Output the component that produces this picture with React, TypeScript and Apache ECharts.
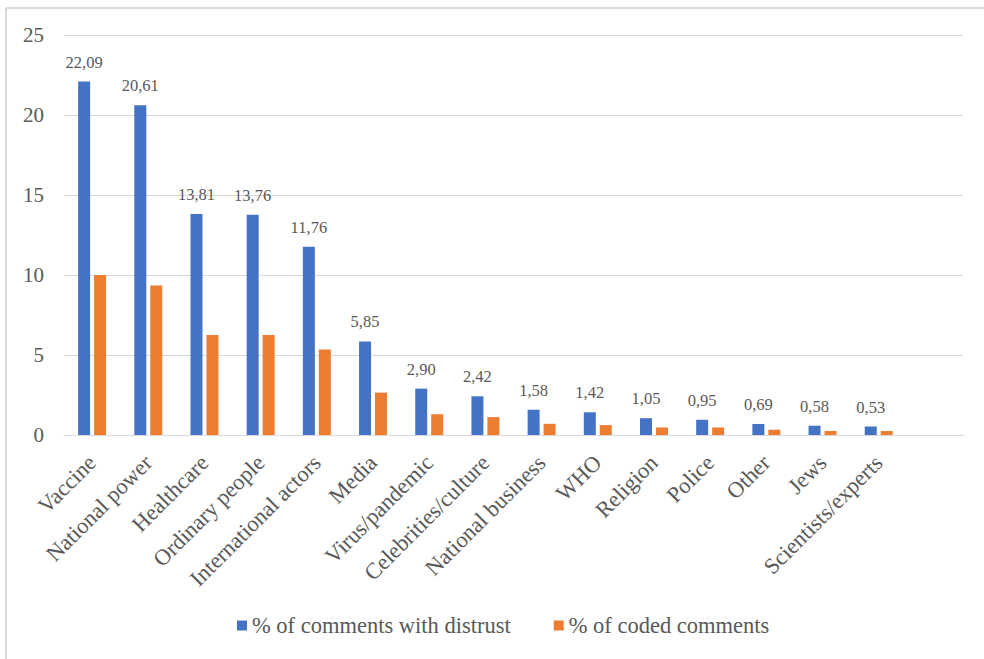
import React, { useEffect, useRef } from "react";
import * as echarts from "echarts";

const categories = [
  "Vaccine",
  "National power",
  "Healthcare",
  "Ordinary people",
  "International actors",
  "Media",
  "Virus/pandemic",
  "Celebrities/culture",
  "National business",
  "WHO",
  "Religion",
  "Police",
  "Other",
  "Jews",
  "Scientists/experts",
  "",
];

const distrust = [22.09, 20.61, 13.81, 13.76, 11.76, 5.85, 2.9, 2.42, 1.58, 1.42, 1.05, 0.95, 0.69, 0.58, 0.53];
const coded = [10.0, 9.35, 6.25, 6.25, 5.35, 2.65, 1.3, 1.12, 0.7, 0.62, 0.47, 0.47, 0.33, 0.25, 0.25];

const seriesNames = ["% of comments with distrust", "% of coded comments"];

const FONT = "Liberation Serif";
const TEXT = "#595959";
const GRID = "#d9d9d9";

export default function App() {
  const ref = useRef<HTMLDivElement>(null);
  useEffect(() => {
    if (!ref.current) return;
    const chart = echarts.init(ref.current, undefined, { renderer: "svg" });
    chart.setOption({
      animation: false,
      backgroundColor: "#ffffff",
      textStyle: { fontFamily: FONT },
      grid: { left: 64, right: 21, top: 35, bottom: 224, containLabel: false },
      graphic: [
        { type: "line", shape: { x1: 6, y1: 8, x2: 984, y2: 8 }, style: { stroke: GRID, lineWidth: 2 } },
        { type: "line", shape: { x1: 6, y1: 8, x2: 6, y2: 659 }, style: { stroke: GRID, lineWidth: 2 } },
      ],
      legend: {
        left: 232,
        top: 609,
        itemWidth: 10,
        itemHeight: 10,
        itemGap: 43,
        icon: "rect",
        textStyle: { fontFamily: FONT, fontSize: 22.5, color: TEXT },
        data: seriesNames,
      },
      xAxis: {
        type: "category",
        data: categories,
        axisTick: { show: false },
        axisLine: { lineStyle: { color: GRID, width: 1 } },
        axisLabel: {
          rotate: 45,
          interval: 0,
          margin: 24,
          fontFamily: FONT,
          fontSize: 22.5,
          color: TEXT,
        },
      },
      yAxis: {
        type: "value",
        min: 0,
        max: 25,
        interval: 5,
        axisLine: { show: false },
        axisTick: { show: false },
        splitLine: { lineStyle: { color: GRID, width: 1 } },
        axisLabel: { margin: 20, fontFamily: FONT, fontSize: 21, color: TEXT },
      },
      series: [
        {
          name: seriesNames[0],
          type: "bar",
          data: distrust,
          barWidth: 12,
          barGap: "33%",
          itemStyle: { color: "#4472C4" },
          label: {
            show: true,
            position: "top",
            distance: 11,
            fontFamily: FONT,
            fontSize: 16.5,
            color: TEXT,
            formatter: (p: any) => p.value.toFixed(2).replace(".", ","),
          },
        },
        {
          name: seriesNames[1],
          type: "bar",
          data: coded,
          barWidth: 12,
          barGap: "33%",
          itemStyle: { color: "#ED7D31" },
        },
      ],
    });
    return () => chart.dispose();
  }, []);
  return (
    <div
      ref={ref}
      style={{ position: "fixed", left: 0, top: 0, width: 984, height: 659, background: "#fff" }}
    />
  );
}
